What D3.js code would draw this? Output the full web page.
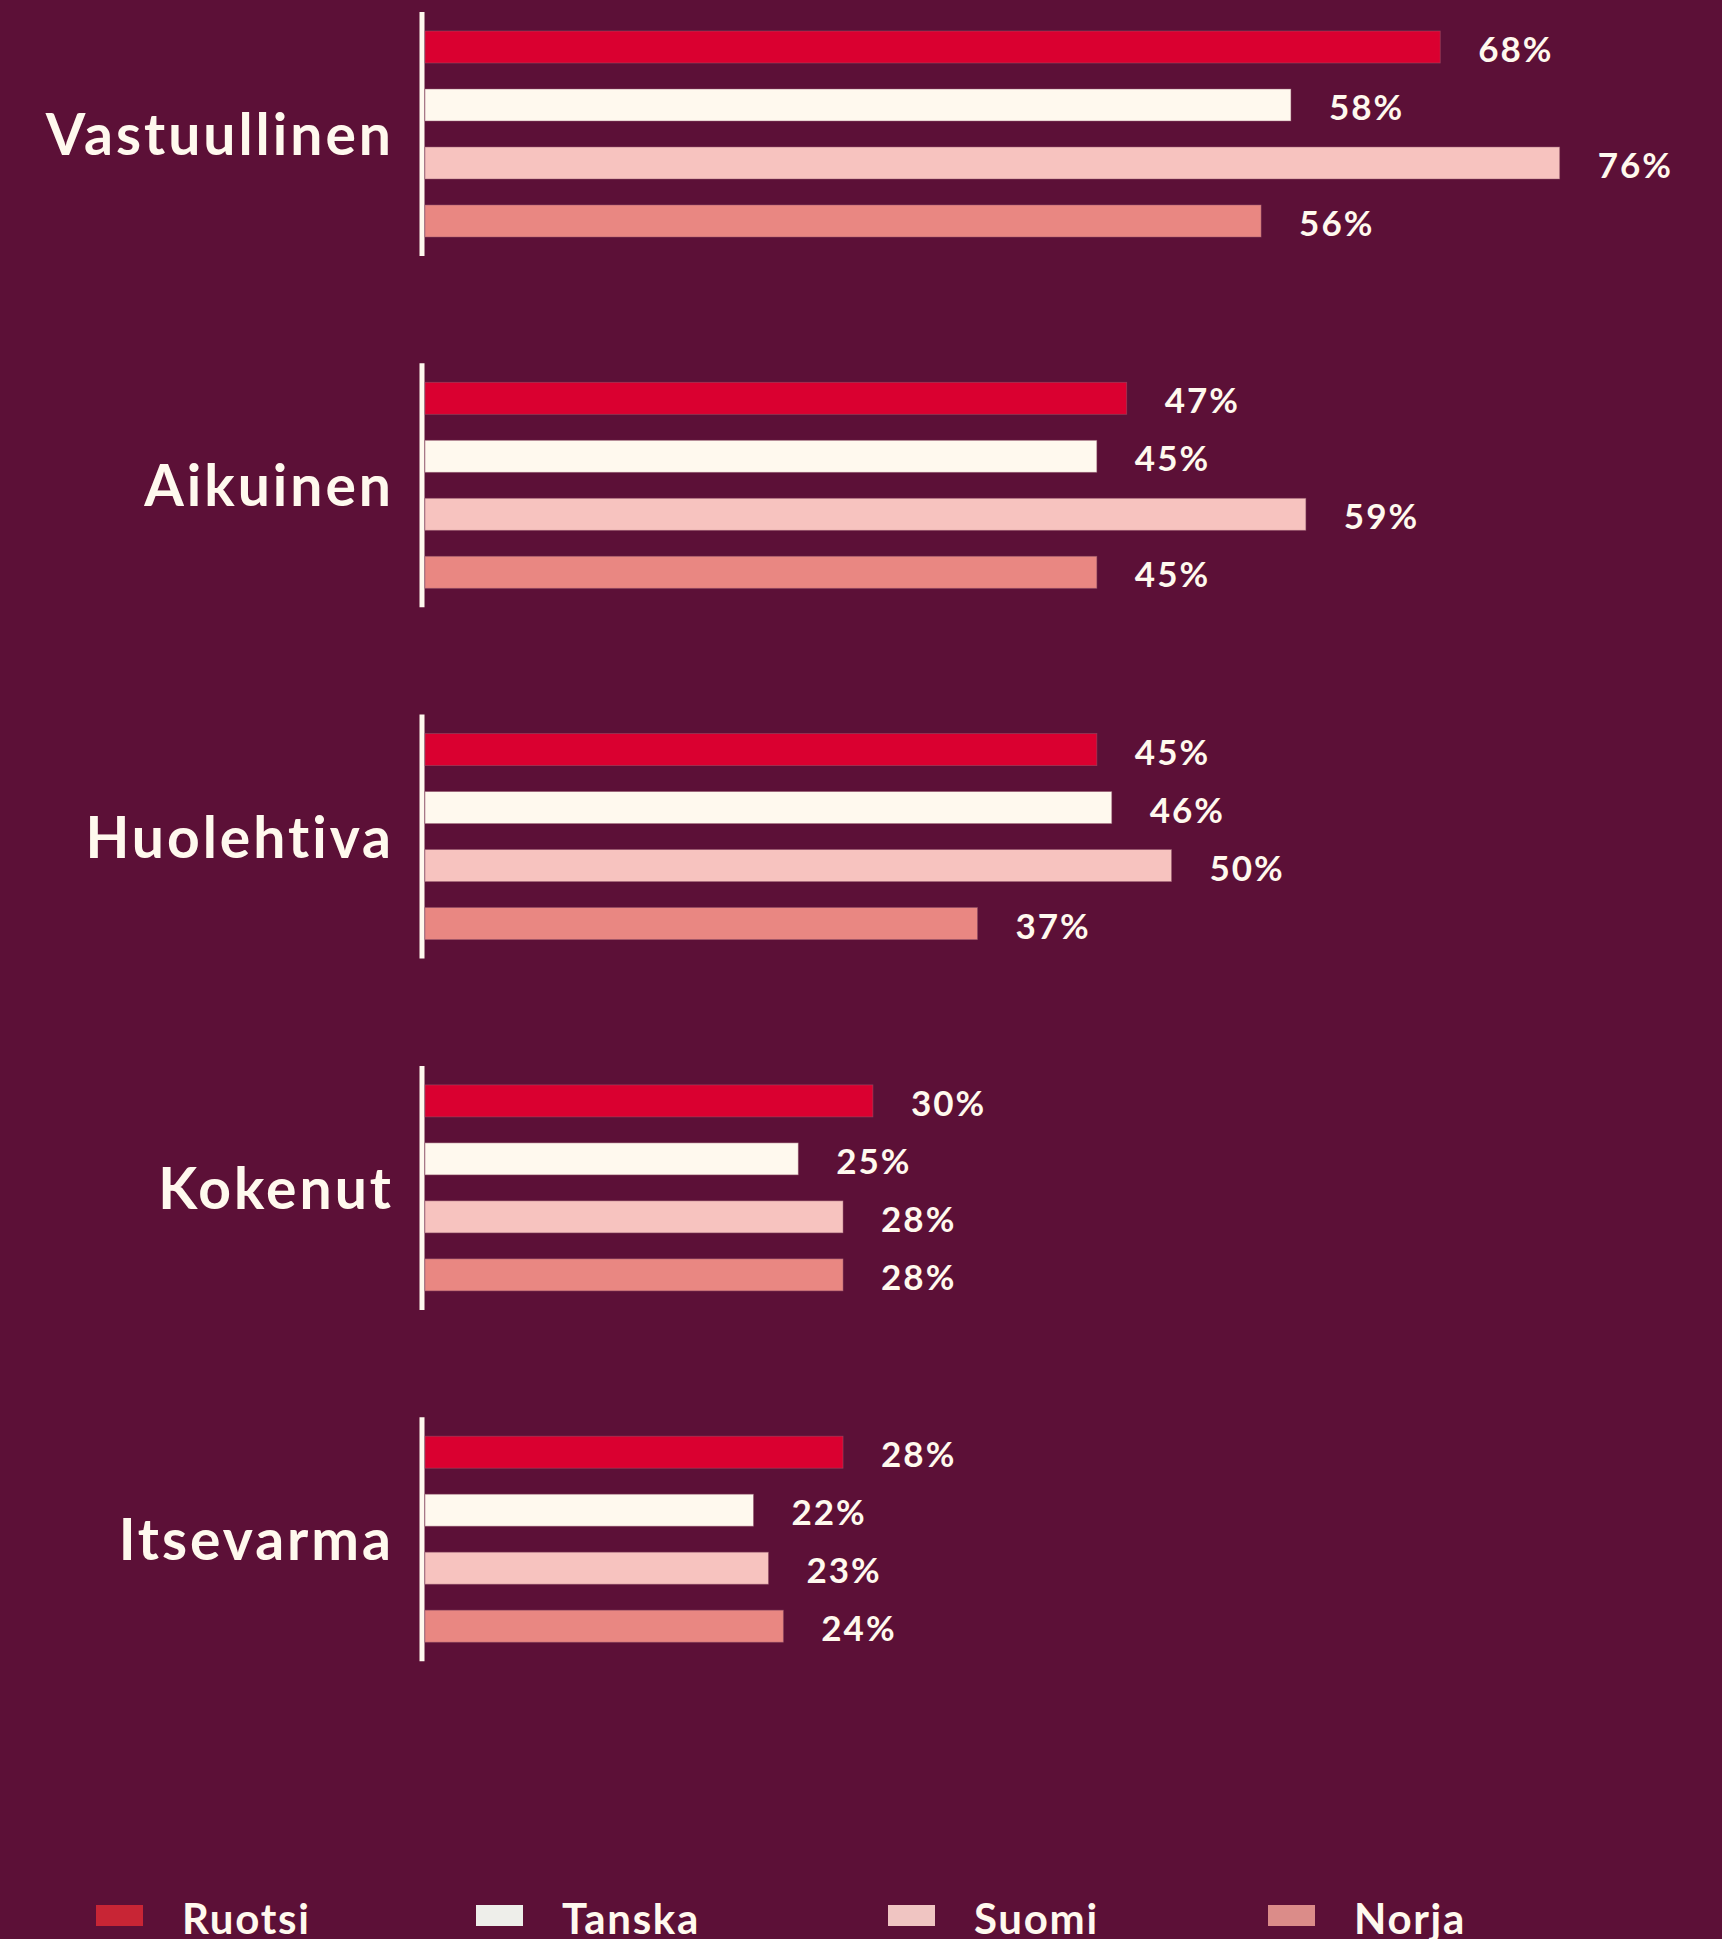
<!DOCTYPE html>
<html><head><meta charset="utf-8">
<script src="https://cdn.jsdelivr.net/npm/d3@7/dist/d3.min.js"></script>
<style>html,body{margin:0;padding:0;background:#5C1037;}svg{display:block;}</style>
</head><body>
<script>
const categories = ["Vastuullinen","Aikuinen","Huolehtiva","Kokenut","Itsevarma"];
const series = ["Ruotsi","Tanska","Suomi","Norja"];
const ruotsi = [68,47,45,30,28];
const tanska = [58,45,46,25,22];
const suomi  = [76,59,50,28,23];
const norja  = [56,45,37,28,24];
const barColors = ["#DA0030","#FFF9EE","#F7C3BF","#E98782"];
const legendColors = ["#C82535","#EEEEEA","#F0C5C2","#DB8C89"];
const values = [ruotsi, tanska, suomi, norja];

const W = 1722, H = 1939;
const svg = d3.select("body").append("svg").attr("width", W).attr("height", H);
svg.append("rect").attr("width", W).attr("height", H).attr("fill", "#5C1037");

const x = d3.scaleLinear().domain([0,100]).range([425, 1918]);
const y = d3.scaleBand().domain(categories).range([12, 1661.2]).paddingInner(0.3054).paddingOuter(0);
const yi = d3.scaleBand().domain(series).range([19, 225]).paddingInner(0.448).paddingOuter(0);
const font = "Lato, 'Open Sans', sans-serif";

const g = svg.selectAll("g.grp").data(categories).join("g")
  .attr("class","grp").attr("transform", d => `translate(0,${y(d)})`);

g.append("line").attr("x1", 422).attr("x2", 422).attr("y1", 0).attr("y2", y.bandwidth())
  .attr("stroke", "#FFF9EE").attr("stroke-width", 5);

g.append("text").attr("x", 394).attr("y", y.bandwidth()/2 + 21)
  .attr("text-anchor","end").attr("fill","#FFF9EE")
  .attr("font-family", font).attr("font-weight", 700).attr("font-size", 57)
  .attr("letter-spacing", 3)
  .text(d => d);

g.each(function(cat, ci){
  const gg = d3.select(this);
  series.forEach((s, si) => {
    const v = values[si][ci];
    gg.append("rect").attr("x", x(0)).attr("y", yi(s))
      .attr("width", x(v) - x(0)).attr("height", yi.bandwidth())
      .attr("fill", barColors[si]).attr("stroke", "rgba(150,90,110,0.6)").attr("stroke-width", 0.8);
    gg.append("text").attr("x", x(v) + 38).attr("y", yi(s) + yi.bandwidth()/2 + 15)
      .attr("fill","#FFF9EE").attr("font-family", font).attr("font-weight", 700)
      .attr("font-size", 35).attr("letter-spacing", 2).text(v + "%");
  });
});

const legendX = [96, 476, 888, 1268];
const lg = svg.selectAll("g.leg").data(series).join("g").attr("class","leg")
  .attr("transform", (d,i) => `translate(${legendX[i]},0)`);
lg.append("rect").attr("x",0).attr("y",1905).attr("width",47).attr("height",21)
  .attr("fill", (d,i) => legendColors[i]);
lg.append("text").attr("x", 86).attr("y", 1934).attr("fill","#FFF9EE")
  .attr("font-family", font).attr("font-weight", 700).attr("font-size", 42)
  .attr("letter-spacing", 1.7).text(d => d);
</script>
</body></html>
